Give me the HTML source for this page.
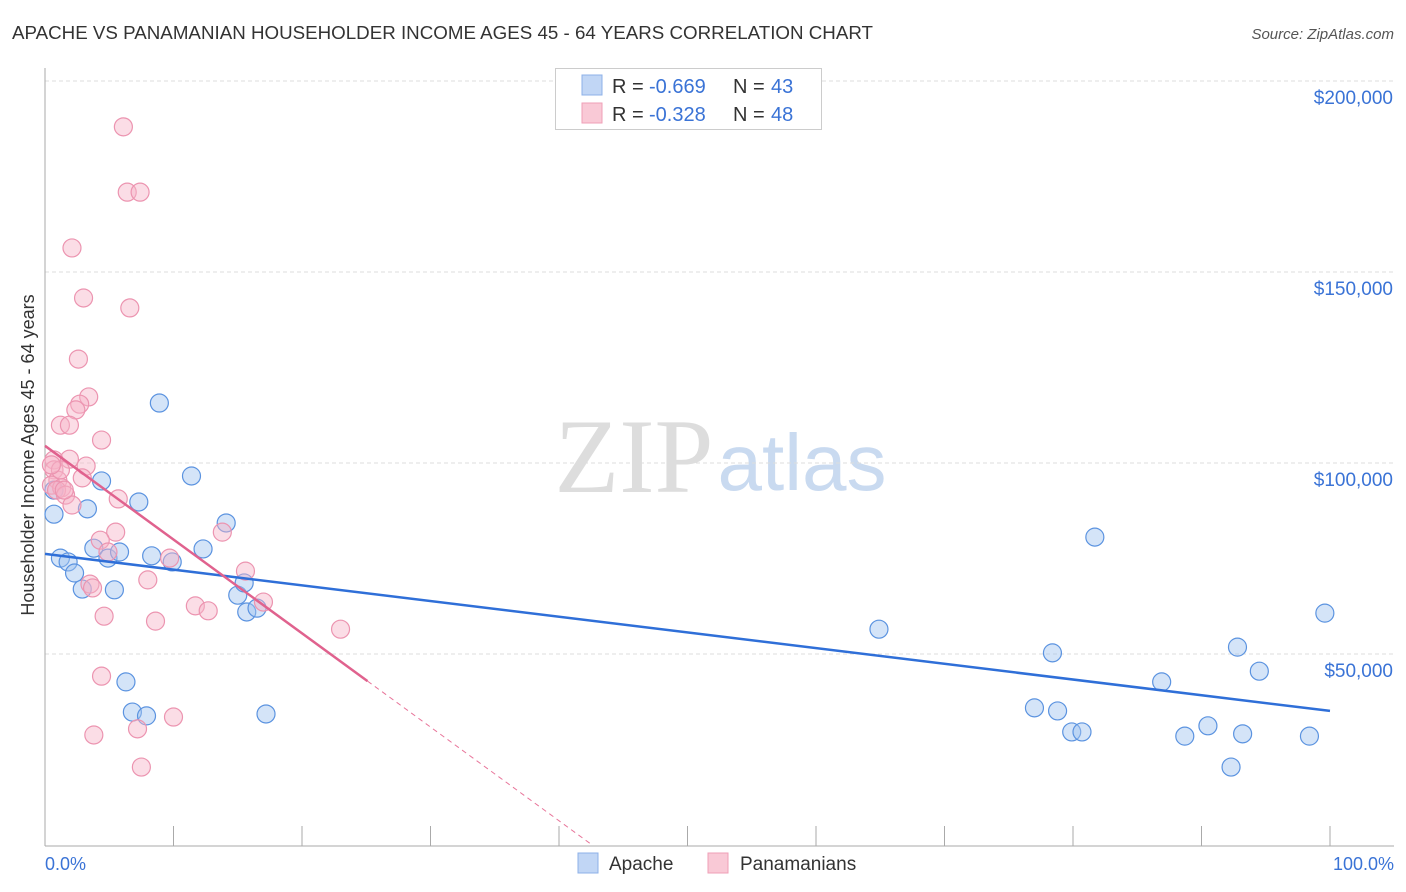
<!DOCTYPE html>
<html><head><meta charset="utf-8"><style>
body{margin:0;background:#fff;font-family:"Liberation Sans",sans-serif;}
svg{display:block}
</style></head><body>
<svg id="c" width="1406" height="892" xmlns="http://www.w3.org/2000/svg">
<text x="12" y="39" font-size="18" fill="#333" textLength="861" lengthAdjust="spacingAndGlyphs">APACHE VS PANAMANIAN HOUSEHOLDER INCOME AGES 45 - 64 YEARS CORRELATION CHART</text>
<text x="1394" y="39" font-size="15" fill="#555" font-style="italic" text-anchor="end">Source: ZipAtlas.com</text>
<text x="634" y="492" font-size="106" fill="#ddd" font-family="Liberation Serif,serif" text-anchor="middle">ZIP</text>
<text x="802" y="490" font-size="80" fill="#c9daf0" text-anchor="middle">atlas</text>
<g id="grid"></g>
<line x1="45" y1="68" x2="45" y2="846" stroke="#aaa"/>
<line x1="45" y1="846" x2="1394" y2="846" stroke="#aaa"/>
<text transform="translate(34,455) rotate(-90)" font-size="18" fill="#333" text-anchor="middle">Householder Income Ages 45 - 64 years</text>
<text x="45" y="870" font-size="18" fill="#3a73d6">0.0%</text>
<text x="1394" y="870" font-size="18" fill="#3a73d6" text-anchor="end">100.0%</text>
<g id="pts"></g>
<g id="lines"></g>
<g>
<rect x="555.5" y="68.5" width="266" height="61" fill="#fff" stroke="#ccc"/>
<rect x="582" y="75" width="20" height="20" fill="#c1d6f5" stroke="#8db0e8"/>
<rect x="582" y="103" width="20" height="20" fill="#f9c9d6" stroke="#ef9fb7"/>
<text y="93" font-size="20" fill="#333"><tspan x="612">R =</tspan><tspan x="649" fill="#3a73d6">-0.669</tspan><tspan x="733">N =</tspan><tspan x="771" fill="#3a73d6">43</tspan></text>
<text y="121" font-size="20" fill="#333"><tspan x="612">R =</tspan><tspan x="649" fill="#3a73d6">-0.328</tspan><tspan x="733">N =</tspan><tspan x="771" fill="#3a73d6">48</tspan></text>
</g>
<rect x="578" y="853" width="20" height="20" fill="#c1d6f5" stroke="#8db0e8"/>
<text x="609" y="870" font-size="19" fill="#333">Apache</text>
<rect x="708" y="853" width="20" height="20" fill="#f9c9d6" stroke="#ef9fb7"/>
<text x="740" y="870" font-size="19" fill="#333">Panamanians</text>
</svg>
<script>
const yTicks=[50,100,150,200];
const yTickLabels=["$50,000","$100,000","$150,000","$200,000"];
const xTicks=[0,10,20,30,40,50,60,70,80,90,100];
const apacheX=[0.7,1.2,1.8,2.3,2.9,3.3,3.8,4.4,4.9,5.4,5.8,6.3,6.8,7.3,7.9,8.3,8.9,9.9,11.4,12.3,14.1,15.0,15.5,15.7,16.5,17.2,64.9,77.0,78.4,78.8,79.9,80.7,81.7,86.9,88.7,90.5,92.3,92.8,93.2,94.5,98.4,99.6,0.7];
const apacheY=[86.6,75.1,74.1,71.2,67.0,88.0,77.7,95.3,75.1,66.8,76.7,42.7,34.8,89.8,33.8,75.7,115.7,74.1,96.6,77.5,84.3,65.4,68.6,61.0,62.0,34.3,56.5,35.9,50.3,35.1,29.6,29.6,80.6,42.7,28.5,31.2,20.4,51.8,29.1,45.5,28.5,60.7,92.9];
const panX=[6.1,6.4,7.4,2.1,3.0,6.6,2.6,3.4,2.7,2.4,1.2,1.9,4.4,0.7,1.9,3.2,2.9,0.7,1.0,0.5,1.3,0.9,1.6,2.1,5.7,5.5,4.3,4.9,1.2,3.5,3.7,8.0,9.7,15.6,13.8,11.7,12.7,17.0,8.6,4.6,23.0,4.4,10.0,3.8,7.2,7.5,0.5,1.5];
const panY=[188.0,170.9,170.9,156.3,143.2,140.6,127.2,117.3,115.4,113.9,109.9,109.9,106.0,100.8,101.0,99.2,96.1,98.2,95.5,94.2,93.5,92.9,91.6,89.0,90.6,81.9,79.8,76.7,98.2,68.3,67.3,69.4,75.1,71.7,81.9,62.6,61.3,63.6,58.6,59.9,56.5,44.2,33.5,28.8,30.4,20.4,99.5,92.9];
const apacheTrend=[76.2,35.1];
const panTrend=[104.5,-140.9];
const panSolidEnd=25.1;
const X=v=>45+v*12.85, Y=v=>845-v*3.82;
const NS="http://www.w3.org/2000/svg";
function mk(t,a,p){const e=document.createElementNS(NS,t);for(const k in a)e.setAttribute(k,a[k]);p.appendChild(e);return e;}
const g=document.getElementById('grid');
yTicks.forEach((v,i)=>{
 const l=mk('line',{x1:45,x2:1394,y1:Y(v),y2:Y(v),stroke:'#ddd','stroke-dasharray':'4,3'},g);
 
 
 const t=mk('text',{x:1393,y:Y(v)+23,'font-size':19,fill:'#3a73d6','text-anchor':'end'},g);
 t.textContent=yTickLabels[i];
 
 
});
xTicks.forEach(v=>{
 const l=mk('line',{x1:X(v),x2:X(v),y1:826,y2:846,stroke:'#aaa'},g);
 
 
});
const p=document.getElementById('pts');
apacheX.forEach((x,i)=>{
 const c=mk('circle',{cx:X(x),cy:Y(apacheY[i]),r:9,fill:'rgba(160,196,240,0.45)',stroke:'#5b93e0','stroke-width':1.2},p);
 
 
});
panX.forEach((x,i)=>{
 const c=mk('circle',{cx:X(x),cy:Y(panY[i]),r:9,fill:'rgba(246,180,200,0.45)',stroke:'#ec94b0','stroke-width':1.2},p);
 
 
});
const L=document.getElementById('lines');
const pf=x=>panTrend[0]+(panTrend[1]-panTrend[0])*x/100;
const bl=mk('line',{x1:X(0),y1:Y(apacheTrend[0]),x2:X(100),y2:Y(apacheTrend[1]),stroke:'#2f6fd8','stroke-width':2.5},L);


const zx=panTrend[0]/(panTrend[0]-panTrend[1])*100;
const pd=mk('line',{x1:X(panSolidEnd),y1:Y(pf(panSolidEnd)),x2:X(zx),y2:Y(0),stroke:'#e8759a','stroke-width':1,'stroke-dasharray':'5,4'},L);


const pl=mk('line',{x1:X(0),y1:Y(pf(0)),x2:X(panSolidEnd),y2:Y(pf(panSolidEnd)),stroke:'#e0628e','stroke-width':2.5},L);


</script>
</body></html>
